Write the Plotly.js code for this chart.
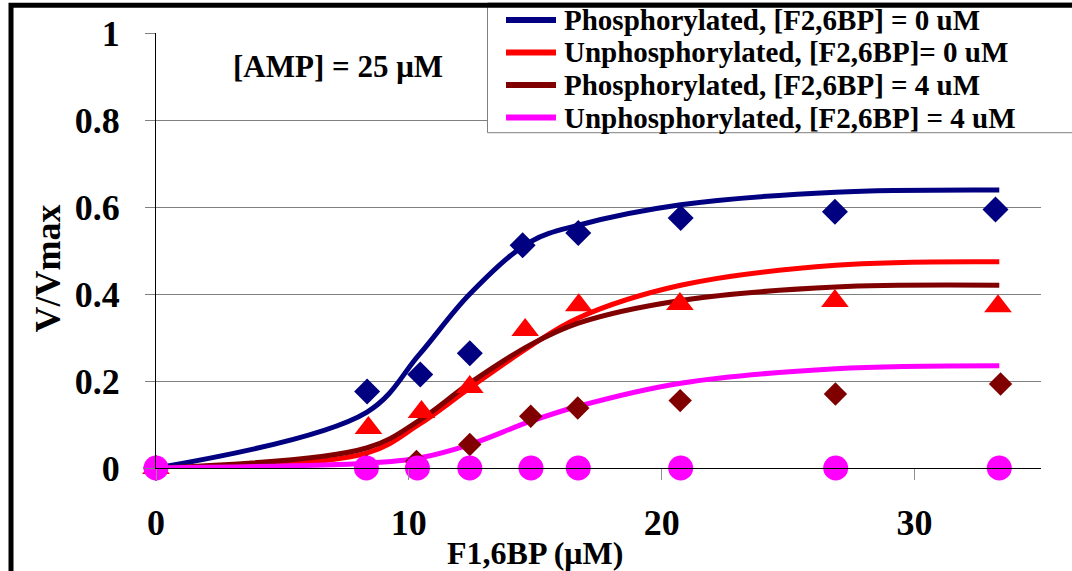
<!DOCTYPE html>
<html>
<head>
<meta charset="utf-8">
<script src="https://cdn.plot.ly/plotly-3.0.1.min.js"></script>
<style>html,body{margin:0;padding:0;background:#fff;}#chart{width:1072px;height:571px;}</style>
</head>
<body>
<div id="chart"></div>
<script>
// ---------- DATA ----------
const seriesNames = [
  "Phosphorylated, [F2,6BP] = 0 uM",
  "Unphosphorylated, [F2,6BP]= 0 uM",
  "Phosphorylated, [F2,6BP] = 4 uM",
  "Unphosphorylated, [F2,6BP] = 4 uM"
];
// measured points (F1,6BP in uM, V/Vmax)
const xPhos0   = [0, 8.35, 10.45, 12.41, 14.5, 16.7, 20.75, 26.85, 33.2];
const yPhos0   = [0, 0.176, 0.215, 0.264, 0.512, 0.540, 0.575, 0.589, 0.594];
const xUnphos0 = [0, 8.4, 10.5, 12.41, 14.6, 16.72, 20.72, 26.85, 33.3];
const yUnphos0 = [0, 0.092, 0.129, 0.186, 0.317, 0.374, 0.377, 0.384, 0.372];
const xPhos4   = [0, 8.33, 10.3, 12.41, 14.82, 16.68, 20.73, 26.87, 33.4];
const yPhos4   = [0, 0.005, 0.015, 0.054, 0.119, 0.138, 0.155, 0.170, 0.193];
const xUnphos4 = [0, 8.32, 10.34, 12.41, 14.83, 16.7, 20.75, 26.88, 33.35];
const yUnphos4 = [0, 0, 0, 0, 0, 0, 0, 0, 0];
// fitted curves
const xFit        = [0, 8.33, 10.4, 12.41, 14.8, 16.7, 20.75, 26.88, 33.35];
const fitPhos0    = [0, 0.128, 0.26, 0.40, 0.52, 0.558, 0.605, 0.634, 0.639];
const fitUnphos0  = [0, 0.034, 0.10, 0.184, 0.28, 0.345, 0.42, 0.466, 0.474];
const fitPhos4    = [0, 0.046, 0.109, 0.195, 0.283, 0.333, 0.385, 0.416, 0.42];
const fitUnphos4  = [0, 0.011, 0.023, 0.054, 0.107, 0.142, 0.195, 0.228, 0.235];
const xTickVals = [0, 10, 20, 30];
const yTickVals = [0, 0.2, 0.4, 0.6, 0.8, 1];
const noteText = "[AMP] = 25 μM";
const xTitle = "F1,6BP (μM)";
const yTitle = "V/Vmax";

// ---------- STYLE ----------
const colors = ["#000080", "#FF0000", "#800000", "#FF00FF"];
const FONT = "Liberation Serif, Times New Roman, serif";
const W = 1072, H = 571, ML = 156, MR = 31, MT = 33, MB = 103;
const pxX = p => (p - ML) / (W - ML - MR);
const pxY = p => (H - MB - p) / (H - MT - MB);

const fitsX = [xFit, xFit, xFit, xFit];
const fitsY = [fitPhos0, fitUnphos0, fitPhos4, fitUnphos4];
const ptsX = [xPhos0, xUnphos0, xPhos4, xUnphos4];
const ptsY = [yPhos0, yUnphos0, yPhos4, yUnphos4];
const symbols = ["diamond", "triangle-up", "diamond", "circle"];
const msizes = [20, 24, 18, 25];

const traces = [];
for (let i = 0; i < 4; i++) {
  traces.push({
    x: fitsX[i], y: fitsY[i], type: "scatter", mode: "lines",
    name: seriesNames[i], showlegend: false,
    line: {color: colors[i], width: 5, shape: "spline", smoothing: 1},
    cliponaxis: false, hoverinfo: "skip"
  });
}
for (let i = 0; i < 4; i++) {
  traces.push({
    x: ptsX[i], y: ptsY[i], type: "scatter", mode: "markers",
    name: seriesNames[i] + " (data)", showlegend: false,
    marker: {symbol: symbols[i], size: msizes[i], color: colors[i], line: {width: 0}},
    cliponaxis: false
  });
}

const shapes = [];
const annotations = [];
// legend box
shapes.push({type: "rect", xref: "paper", yref: "paper",
  x0: pxX(487.5), x1: pxX(1090), y0: pxY(132.7), y1: pxY(3),
  fillcolor: "#FFFFFF", line: {color: "#808080", width: 1}, layer: "above"});
for (let i = 0; i < 4; i++) {
  const yRow = 20 + i * 32.5;
  shapes.push({type: "line", xref: "paper", yref: "paper",
    x0: pxX(506), x1: pxX(556), y0: pxY(yRow), y1: pxY(yRow),
    line: {color: colors[i], width: 6}, layer: "above"});
  annotations.push({xref: "paper", yref: "paper", x: pxX(562), y: pxY(yRow),
    xanchor: "left", yanchor: "middle", showarrow: false, text: seriesNames[i],
    font: {family: FONT, size: 29, color: "#000", weight: 700}});
}
// figure frame
shapes.push({type: "rect", xref: "paper", yref: "paper",
  x0: pxX(11), x1: pxX(1100), y0: pxY(620), y1: pxY(5.3),
  line: {color: "#000", width: 5}, fillcolor: "rgba(0,0,0,0)", layer: "above"});

annotations.push({xref: "paper", yref: "paper", x: pxX(337.5), y: pxY(66),
  xanchor: "center", yanchor: "middle", showarrow: false, text: noteText,
  font: {family: FONT, size: 31, color: "#000", weight: 700}});
annotations.push({xref: "paper", yref: "paper", x: pxX(535), y: pxY(553),
  xanchor: "center", yanchor: "middle", showarrow: false, text: xTitle,
  font: {family: FONT, size: 32, color: "#000", weight: 700}});
annotations.push({xref: "paper", yref: "paper", x: pxX(47.5), y: pxY(269),
  xanchor: "center", yanchor: "middle", showarrow: false, text: yTitle, textangle: -90,
  font: {family: FONT, size: 36, color: "#000", weight: 700}});

const layout = {
  width: W, height: H,
  margin: {l: ML, r: MR, t: MT, b: MB, pad: 0},
  paper_bgcolor: "#FFFFFF", plot_bgcolor: "#FFFFFF",
  showlegend: false,
  font: {family: FONT, size: 36, color: "#000"},
  xaxis: {
    range: [0, 35], tickvals: xTickVals, ticktext: xTickVals.map(String),
    showgrid: false, zeroline: false,
    showline: true, linecolor: "#000", linewidth: 1,
    ticks: "outside", ticklen: 11, tickcolor: "#909090", tickwidth: 1,
    tickfont: {family: FONT, size: 36, color: "#000", weight: 700},
    ticklabelstandoff: 12
  },
  yaxis: {
    range: [0, 1], tickvals: yTickVals, ticktext: yTickVals.map(String),
    showgrid: true, gridcolor: "#808080", gridwidth: 1, zeroline: false,
    showline: true, linecolor: "#000", linewidth: 1,
    ticks: "outside", ticklen: 10, tickcolor: "#808080", tickwidth: 1,
    tickfont: {family: FONT, size: 36, color: "#000", weight: 700},
    ticklabelstandoff: 18
  },
  shapes: shapes,
  annotations: annotations
};

Plotly.newPlot("chart", traces, layout, {staticPlot: true, displayModeBar: false});
</script>
</body>
</html>
